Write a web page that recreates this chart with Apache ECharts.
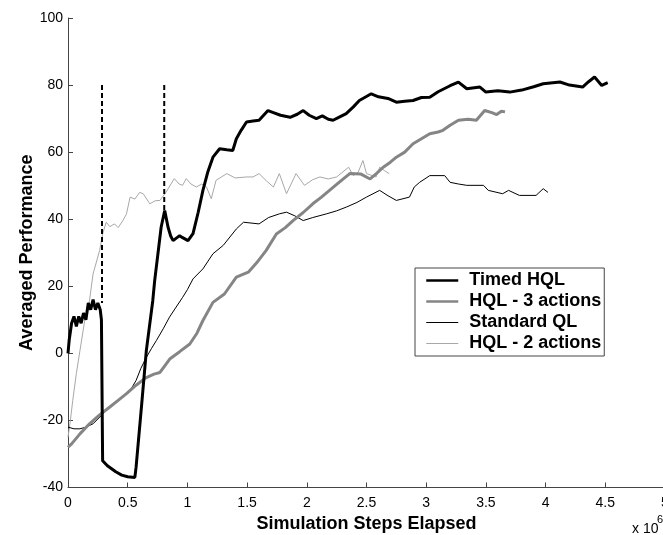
<!DOCTYPE html>
<html>
<head>
<meta charset="utf-8">
<script src="https://cdn.jsdelivr.net/npm/echarts@6/dist/echarts.min.js"></script>
<style>
  html, body { margin: 0; padding: 0; background: #fff; }
  #main { width: 663px; height: 535px; }
</style>
</head>
<body>
<div id="main"></div>
<script>
// values, x in millions of steps
var seriesNames = ['Timed HQL', 'HQL - 3 actions', 'Standard QL', 'HQL - 2 actions'];
var xTicks = [0, 0.5, 1, 1.5, 2, 2.5, 3, 3.5, 4, 4.5, 5];
var yTicks = [-40, -20, 0, 20, 40, 60, 80, 100];

var timedHql = [[0,0],[0.01,4],[0.03,9],[0.05,11],[0.07,8],[0.09,11],[0.11,9],[0.13,12],[0.15,10],[0.17,15],
  [0.19,13],[0.21,16],[0.23,13],[0.25,15],[0.27,13],[0.28,10],[0.29,-32],[0.33,-33.5],[0.40,-35.3],[0.45,-36.3],
  [0.50,-36.8],[0.56,-37],[0.57,-34],[0.62,-14],[0.656,0.8],[0.71,15.7],[0.726,21.7],[0.78,37.6],[0.81,42.6],
  [0.838,37.6],[0.86,35],[0.88,33.6],[0.935,35.1],[0.96,34.5],[1.005,33.6],[1.047,35.7],[1.09,42],[1.13,48.6],
  [1.17,54],[1.214,58.5],[1.27,61],[1.33,60.7],[1.38,60.5],[1.41,64],[1.45,66.5],[1.495,69],[1.55,69.3],[1.6,69.5],
  [1.675,72.4],[1.72,71.8],[1.78,71],[1.86,70.4],[1.92,71.3],[1.97,72.4],[2.02,71],[2.08,70],[2.13,70.8],[2.18,69.8],
  [2.22,69.5],[2.28,70.6],[2.33,71.5],[2.39,73.5],[2.44,75.4],[2.54,77.4],[2.6,76.5],[2.68,76],[2.75,74.9],[2.82,75.2],
  [2.89,75.4],[2.96,76.3],[3.03,76.4],[3.1,78],[3.2,79.8],[3.27,80.9],[3.34,78.9],[3.45,79.4],[3.5,77.9],[3.6,78.3],
  [3.7,77.9],[3.8,78.5],[3.9,79.5],[3.98,80.4],[4.12,80.9],[4.2,80],[4.31,79.4],[4.36,81],[4.41,82.4],[4.47,79.9],[4.52,80.7]];

var hql3 = [[0,-28],[0.03,-27],[0.1,-24],[0.18,-21],[0.26,-18.5],[0.35,-16],[0.42,-14],[0.49,-12],[0.57,-9.5],
  [0.656,-7.2],[0.72,-6.2],[0.77,-5.7],[0.852,-1.7],[0.935,0.5],[1.02,2.8],[1.08,6],[1.13,9.8],[1.214,15.2],
  [1.31,17.7],[1.41,22.7],[1.51,24.2],[1.58,27],[1.66,30.7],[1.745,35.6],[1.82,37.5],[1.885,39.6],[1.97,42],
  [2.05,44.6],[2.12,46.5],[2.19,48.6],[2.27,51],[2.36,53.6],[2.45,53.5],[2.53,52],[2.58,53.5],[2.64,55.5],[2.7,57],
  [2.75,58.5],[2.82,60],[2.89,62.5],[2.96,64],[3.03,65.5],[3.1,66],[3.14,66.5],[3.2,68],[3.27,69.5],[3.35,69.8],
  [3.42,69.5],[3.49,72.4],[3.55,71.8],[3.59,71.2],[3.63,72.2],[3.66,72]];

var standardQl = [[0,-22],[0.05,-22.5],[0.1,-22.5],[0.15,-22],[0.21,-21],[0.28,-18.5],[0.35,-16],[0.42,-14],[0.49,-12],
  [0.53,-10.5],[0.57,-8.1],[0.61,-4.5],[0.656,-1.2],[0.7,1.5],[0.74,3.8],[0.8,7.5],[0.85,10.8],[0.9,13.5],[0.96,16.7],
  [1.0,19],[1.047,22.2],[1.13,25.2],[1.214,29.7],[1.3,32.2],[1.41,37.1],[1.47,39.1],[1.6,38.6],[1.68,40.5],[1.77,41.6],
  [1.83,42.1],[1.9,41],[1.97,39.6],[2.05,40.5],[2.165,41.6],[2.25,42.5],[2.33,43.6],[2.42,45],[2.5,46.6],[2.61,48.6],
  [2.68,47],[2.75,45.6],[2.86,46.6],[2.9,49.6],[2.945,51],[3.03,53],[3.155,53],[3.2,51],[3.27,50.5],[3.34,50.1],
  [3.48,50.1],[3.52,48.6],[3.64,47.6],[3.69,48.6],[3.78,47.1],[3.92,47.1],[3.98,49.1],[4.02,48]];

var hql2 = [[0,-25],[0.02,-20],[0.04,-14],[0.07,-6],[0.1,0.8],[0.14,9.8],[0.18,15.7],[0.21,23.7],[0.265,30.7],
  [0.29,35.6],[0.32,39.1],[0.35,37.8],[0.39,38.6],[0.42,37.5],[0.46,39.6],[0.49,41.6],[0.52,46.6],[0.56,46],[0.6,48],
  [0.63,47.6],[0.685,44.6],[0.73,45.5],[0.77,45.6],[0.82,48],[0.89,52.1],[0.93,50.5],[0.96,50.1],[0.99,52.1],
  [1.03,50.5],[1.075,49.6],[1.12,50.5],[1.16,49.6],[1.2,46.1],[1.24,51.6],[1.33,53.6],[1.4,52.3],[1.495,52.6],
  [1.55,52.6],[1.6,53.6],[1.66,51.5],[1.72,49.6],[1.77,53.6],[1.83,47.6],[1.91,53.6],[1.98,50.1],[2.05,51.8],
  [2.11,52.6],[2.18,52],[2.25,52.6],[2.35,55.5],[2.39,53],[2.43,54],[2.47,57.5],[2.5,53.6],[2.58,52.6],[2.61,55.5],
  [2.65,54.5],[2.69,53.6]];

// the two dashed markers
var dashX = [0.285, 0.806];
var dashTop = [80, 80];
var dashBottom = [15, 42.5];

var font = 'Liberation Sans, Arial, Helvetica, sans-serif';
var colors = ['#000', '#858585', '#000', '#a8a8a8'];
var widths = [3, 3, 1, 1];

function lineSeries(k, data) {
  return {
    name: seriesNames[k], type: 'line', data: data, showSymbol: false, symbol: 'none',
    lineStyle: { color: colors[k], width: widths[k] }, itemStyle: { color: colors[k] },
    silent: true
  };
}

var series = [
  lineSeries(3, hql2),
  lineSeries(2, standardQl),
  lineSeries(1, hql3),
  lineSeries(0, timedHql)
];
for (var i = 0; i < dashX.length; i++) {
  series.push({
    name: 'dash' + i, type: 'line', showSymbol: false, symbol: 'none', silent: true,
    data: [[dashX[i], dashTop[i]], [dashX[i], dashBottom[i]]],
    lineStyle: { color: '#000', width: 2, type: [5, 3] }
  });
}

var legendData = seriesNames.map(function (n, k) {
  return { name: n, itemStyle: { opacity: 0 }, lineStyle: { color: colors[k], width: widths[k] == 3 ? 2.5 : 1 } };
});

var chart = echarts.init(document.getElementById('main'));
chart.setOption({
  animation: false,
  backgroundColor: '#fff',
  grid: { left: 68, right: -2, top: 18, bottom: 47.5, containLabel: false, outerBoundsMode: 'none' },
  xAxis: {
    type: 'value', min: xTicks[0], max: xTicks[xTicks.length - 1], interval: 0.5,
    name: 'Simulation Steps Elapsed', nameLocation: 'middle', nameGap: 28, nameMoveOverlap: false,
    nameTextStyle: { fontFamily: font, fontSize: 18, fontWeight: 'bold', color: '#000' },
    axisLine: { onZero: false, lineStyle: { color: '#444', width: 1 } },
    axisTick: { inside: true, length: 5, lineStyle: { color: '#444' } },
    axisLabel: { margin: 9, fontFamily: font, fontSize: 14, color: '#000' },
    splitLine: { show: false }
  },
  yAxis: {
    type: 'value', min: yTicks[0], max: yTicks[yTicks.length - 1], interval: 20,
    name: 'Averaged Performance', nameLocation: 'middle', nameGap: 32, nameMoveOverlap: false,
    nameTextStyle: { fontFamily: font, fontSize: 18, fontWeight: 'bold', color: '#000' },
    axisLine: { show: true, onZero: false, lineStyle: { color: '#444', width: 1 } },
    axisTick: { show: true, inside: true, length: 5, lineStyle: { color: '#444' } },
    axisLabel: { margin: 5, fontFamily: font, fontSize: 14, color: '#000' },
    splitLine: { show: false }
  },
  legend: {
    data: legendData,
    orient: 'vertical', left: 415, top: 268,
    itemWidth: 32, itemHeight: 14, itemGap: 0,
    padding: [2, 1, 2, 10],
    backgroundColor: '#fff', borderColor: '#444', borderWidth: 1,
    textStyle: { fontFamily: font, fontSize: 18, fontWeight: 'bold', color: '#000',
      lineHeight: 21, width: 134, padding: [0, 0, 0, 6] },
    selectedMode: false
  },
  graphic: [
    { type: 'text', left: 632, top: 522, style: { text: 'x 10', font: '14px ' + font, fill: '#000' } },
    { type: 'text', left: 657, top: 514, style: { text: '6', font: '11px ' + font, fill: '#000' } }
  ],
  series: series
});
</script>
</body>
</html>
